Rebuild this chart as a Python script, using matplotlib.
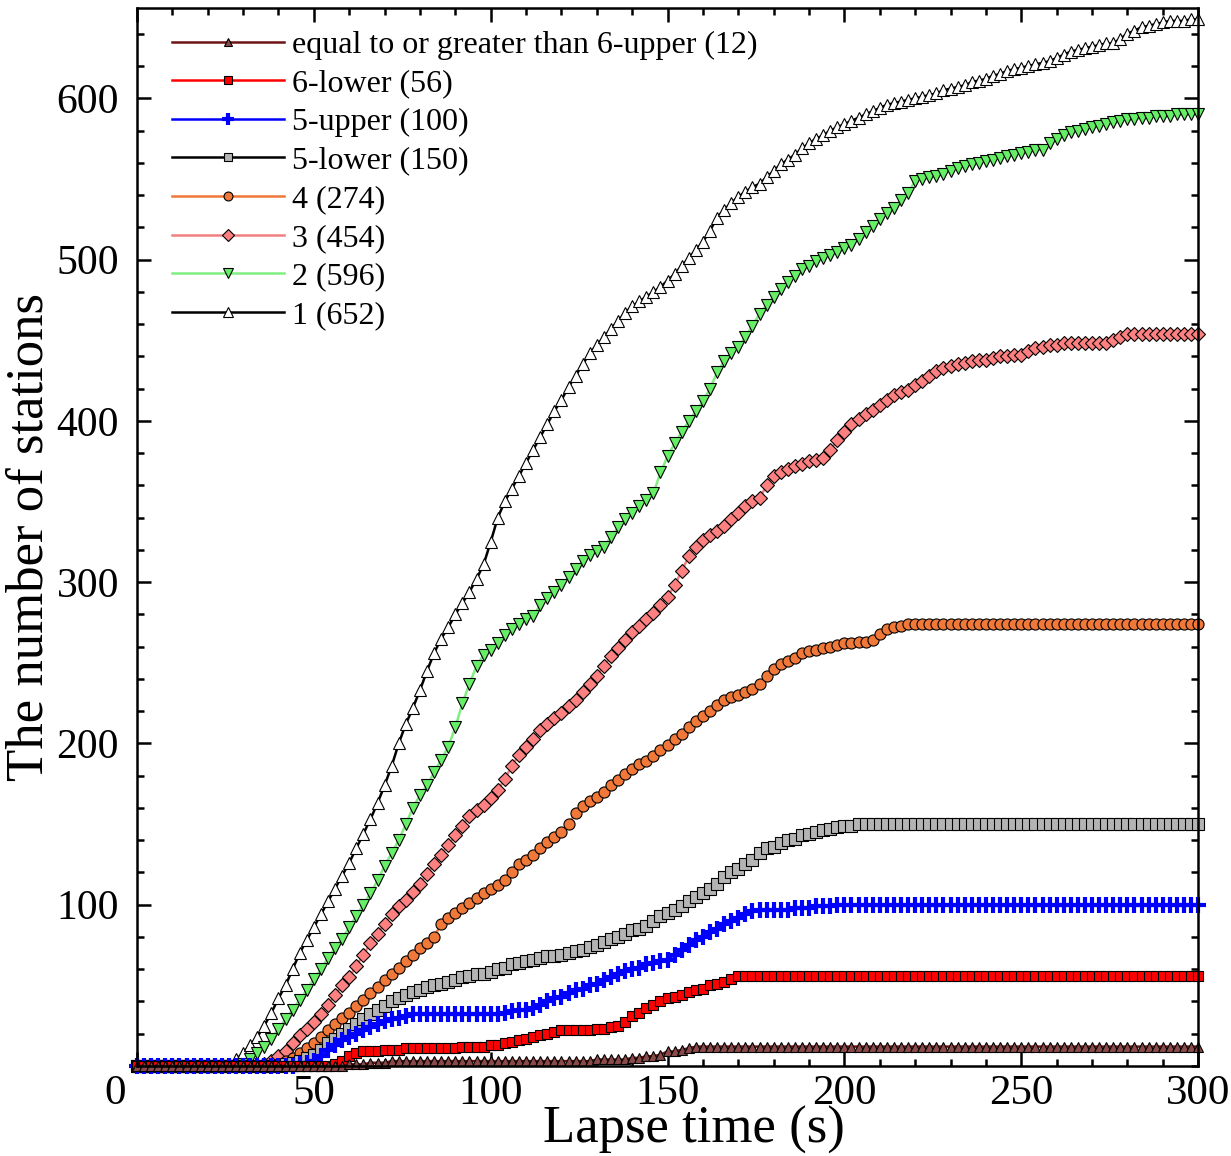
import numpy as np
import matplotlib
matplotlib.use("Agg")
from matplotlib import pyplot as plt
from matplotlib.ticker import MultipleLocator
import matplotlib.transforms as mtransforms

plt.rcParams['font.family'] = ['Liberation Serif', 'DejaVu Serif']

# lapse time (s), one sample every 2 s
times = np.arange(0, 301, 2)

# cumulative number of stations
int1 = ([0] * 13 + [1, 4, 8, 13, 18, 25, 33]
        + [42, 50, 60, 70, 78, 86, 94, 102, 110, 118]
        + [126, 135, 144, 153, 163, 174, 186, 200, 212, 222]
        + [233, 245, 256, 265, 272, 280, 287, 294, 302, 311]
        + [325, 340, 350, 358, 366, 374, 382, 390, 398, 406]
        + [413, 421, 428, 435, 442, 447, 452, 457, 462, 467]
        + [471, 474, 477, 480, 483, 487, 491, 496, 501, 506]
        + [511, 518, 526, 531, 535, 539, 542, 545, 547, 551]
        + [555, 559, 562, 565, 569, 572, 575, 577, 580, 582]
        + [584, 586, 588, 590, 592, 594, 596, 597, 598, 599]
        + [600, 601, 602, 603, 605, 606, 607, 608, 610, 611]
        + [612, 614, 615, 617, 618, 619, 620, 621, 622, 623]
        + [625, 627, 629, 630, 631, 632, 633, 634, 634, 637]
        + [640, 642, 644, 645, 646, 647, 648, 648, 648, 649]
        + [649])

int2 = ([0] * 15 + [1, 4, 8, 12, 17]
        + [23, 29, 35, 41, 47, 54, 60, 67, 73, 79]
        + [86, 93, 100, 107, 115, 124, 132, 140, 150, 160]
        + [168, 174, 182, 190, 198, 210, 225, 237, 248, 255]
        + [258, 262, 267, 271, 274, 277, 279, 286, 290, 294]
        + [298, 303, 308, 313, 317, 319, 322, 328, 334, 339]
        + [343, 347, 351, 355, 368, 378, 386, 393, 400, 406]
        + [412, 420, 430, 437, 442, 446, 452, 459, 466, 472]
        + [477, 482, 486, 490, 494, 496, 499, 501, 503, 505]
        + [507, 509, 513, 517, 521, 525, 529, 532, 537, 541]
        + [549, 550, 551, 552, 553, 555, 557, 558, 559, 560]
        + [561, 562, 563, 564, 565, 566, 567, 568, 568, 572]
        + [575, 577, 579, 580, 581, 582, 583, 584, 585, 586]
        + [587, 587, 588, 588, 589, 589, 589, 590, 590, 590]
        + [590])

int3 = ([0] * 18 + [1, 3]
        + [6, 9, 14, 19, 23, 27, 32, 38, 44, 50]
        + [55, 62, 69, 76, 82, 88, 94, 99, 103, 108]
        + [113, 119, 125, 131, 137, 143, 149, 155, 159, 162]
        + [166, 171, 178, 186, 193, 198, 203, 208, 212, 216]
        + [219, 223, 227, 232, 237, 242, 248, 254, 259, 264]
        + [269, 273, 277, 281, 286, 291, 298, 307, 316, 322]
        + [326, 329, 332, 335, 339, 343, 347, 350, 352, 360]
        + [366, 368, 370, 372, 373, 375, 376, 377, 382, 388]
        + [393, 398, 401, 404, 407, 410, 413, 416, 418, 419]
        + [422, 425, 428, 431, 433, 434, 435, 436, 437, 438]
        + [438, 439, 440, 440, 441, 441, 443, 445, 446, 447]
        + [447, 448, 448, 448, 448, 448, 448, 448, 450, 452]
        + [454] * 11)

int4 = ([0] * 20
        + [1, 3, 5, 8, 11, 14, 18, 22, 26, 30]
        + [33, 37, 41, 45, 49, 53, 57, 61, 65, 69]
        + [73, 76, 80, 88, 92, 95, 98, 101, 104, 107]
        + [110, 112, 115, 120, 125, 128, 131, 135, 139, 142]
        + [145, 150, 157, 161, 164, 167, 170, 174, 177, 181]
        + [184, 187, 189, 192, 196, 199, 203, 206, 210, 214]
        + [217, 220, 224, 227, 229, 230, 232, 234, 237, 242]
        + [246, 249, 251, 253, 256, 257, 258, 259, 260, 261]
        + [262, 262, 263, 263, 264, 268, 271, 272, 273, 274]
        + [274] * 41)

int5l = ([0] * 20
         + [0, 1, 2, 3, 5, 7, 10, 14, 17, 20]
         + [23, 26, 29, 32, 35, 37, 40, 42, 44, 46]
         + [47, 49, 50, 51, 52, 53, 55, 56, 57, 57]
         + [58, 60, 61, 63, 64, 65, 66, 67, 68, 68]
         + [69, 70, 71, 72, 74, 75, 77, 79, 80, 82]
         + [84, 85, 87, 90, 93, 95, 97, 99, 102, 105]
         + [107, 110, 113, 117, 120, 122, 125, 128, 132, 135]
         + [136, 138, 140, 141, 143, 144, 145, 146, 147, 148]
         + [149, 149]
         + [150] * 49)

int5u = ([0] * 20
         + [0, 0, 0, 1, 2, 3, 6, 10, 13, 16]
         + [18, 20, 22, 24, 26, 28, 29, 30, 31, 32]
         + [32] * 10
         + [32, 32, 33, 34, 35, 35, 36, 38, 40, 42]
         + [43, 45, 47, 48, 50, 51, 53, 55, 57, 59]
         + [60, 61, 63, 64, 65, 66, 69, 72, 75, 78]
         + [80, 83, 85, 88, 90, 92, 94, 96, 97, 97]
         + [97, 97, 97, 98, 98, 98, 99, 99, 99, 100]
         + [100] * 51)

int6l = ([0] * 20
         + [0, 0, 0, 0, 0, 0, 0, 0, 1, 3]
         + [6, 8, 9, 9, 9, 10, 10, 10, 11, 11]
         + [11, 11, 11, 11, 11, 11, 12, 12, 12, 12]
         + [13, 13, 14, 15, 16, 17, 18, 19, 20, 21]
         + [22, 22, 22, 22, 22, 23, 23, 24, 25, 27]
         + [31, 33, 36, 38, 40, 42, 43, 44, 46, 47]
         + [48, 50, 51, 52, 54, 56, 56, 56, 56, 56]
         + [56] * 61)

int6u = ([0] * 30
         + [1, 1, 1, 2, 2, 2, 3, 3, 3, 3]
         + [3] * 20
         + [3, 3, 3, 3, 3, 4, 4, 4, 4, 4]
         + [5, 5, 6, 6, 7, 9, 9, 10, 11, 12]
         + [12] * 71)

labels = ["equal to or greater than 6-upper (12)", "6-lower (56)",
          "5-upper (100)", "5-lower (150)", "4 (274)", "3 (454)",
          "2 (596)", "1 (652)"]
series = [int6u, int6l, int5u, int5l, int4, int3, int2, int1]

xticks = [0, 50, 100, 150, 200, 250, 300]
yticks = [100, 200, 300, 400, 500, 600]

# line colour, marker, marker face, marker size
styles = [
    ("#6e1414", "^", "#8a4a4a", 6.5),
    ("#ff0000", "s", "#ff0000", 6.5),
    ("#0000ff", "+", "#0000ff", 11),
    ("#000000", "s", "#b4b4b4", 8),
    ("#f07838", "o", "#f07838", 8),
    ("#f08080", "D", "#ff8080", 7.5),
    ("#80ee80", "v", "#66ee66", 9),
    ("#000000", "^", "#ffffff", 9),
]

fig = plt.figure(figsize=(12.31, 11.56), dpi=100)
ax = fig.add_axes([0.1113, 0.0779, 0.862, 0.9152])

handles = [None] * len(series)
# draw the weakest intensity last so it sits on top
for i in reversed(range(len(series))):
    col, mk, face, ms = styles[i]
    if mk == "+":
        kw = dict(markeredgecolor=col, markeredgewidth=3)
    else:
        kw = dict(markerfacecolor=face, markeredgecolor="black",
                  markeredgewidth=0.8)
    ln, = ax.plot(times, series[i], color=col, lw=1.8, marker=mk,
                  markersize=ms, clip_on=False, label=labels[i], **kw)
    handles[i] = ln

ax.set_xlim(0, 300)
ax.set_ylim(0, 656)
ax.set_xticks(xticks, [""] + [str(v) for v in xticks[1:]])
ax.set_yticks(yticks)
ax.xaxis.set_minor_locator(MultipleLocator(10))
ax.yaxis.set_minor_locator(MultipleLocator(20))
ax.tick_params(which="both", direction="in", top=True, right=True,
               width=1.8)
ax.tick_params(which="major", length=10)
ax.tick_params(which="minor", length=5)
ax.tick_params(axis="y", which="major", pad=13, labelsize=30)
ax.tick_params(axis="x", which="major", pad=6, labelsize=31)
for sp in ax.spines.values():
    sp.set_linewidth(1.8)

# the "0" sits a little left of its tick in the original
trans0 = mtransforms.offset_copy(ax.transAxes, fig=fig, x=-22, y=-6 * 100 / 72,
                                 units="dots")
ax.text(0, 0, "0", transform=trans0, ha="center", va="top", fontsize=31)

ax.set_xlabel("Lapse time (s)", fontsize=38, va="bottom")
ax.xaxis.set_label_coords(0.525, -0.083)
ax.set_ylabel("The number of stations", fontsize=38)
ax.yaxis.set_label_coords(-0.079, 0.5)

ax.legend(handles=handles, loc="upper left", frameon=False, fontsize=23,
          handlelength=3.5, handletextpad=0.25, labelspacing=0.29,
          borderaxespad=0.3, bbox_to_anchor=(0.012, 1.0), numpoints=1,
          markerscale=0.8)

fig.savefig("out.png", dpi=100)
